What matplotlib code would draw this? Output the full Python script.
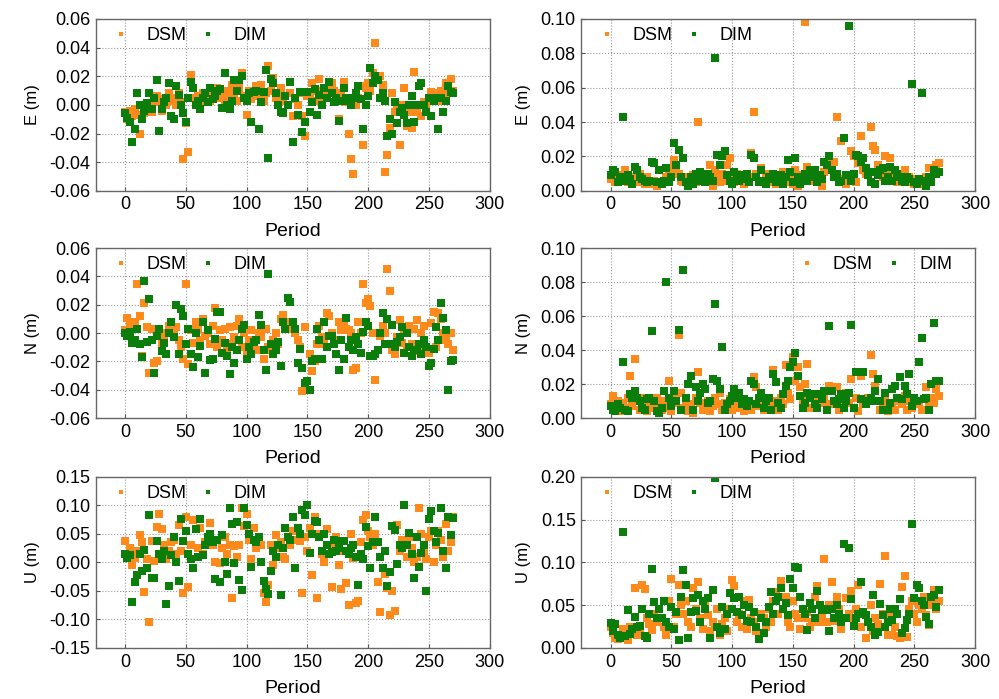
import numpy as np
import matplotlib
matplotlib.use('Agg')
import matplotlib.pyplot as plt
from matplotlib.ticker import FormatStrFormatter, MultipleLocator

plt.rcParams['font.family'] = ['Liberation Sans', 'DejaVu Sans']

# 관측 주기 (0 ~ 270, 2 간격)
period = np.arange(0, 271, 2)

# E 방향 오차 (mm)
e_dsm = [-5, -10, -4, -8, -3, -7, -20, -10, -6, -2,
         0, -5, 3, 6, 2, -4, 4, 0, 8, 3,
         5, 0, 8, 2, -38, -13, -33, 21, 5, 3,
         6, 2, 8, 4, 5, 3, 10, 6, 12, 5,
         7, 3, 10, 5, 14, 8, 3, 12, 22, 6,
         -7, 10, 4, 8, 13, 6, 14, 3, 8, 27,
         10, 19, 5, 8, 12, 3, 6, 0, 8, -8,
         4, 0, 8, -8, -22, 6, 8, 15, 3, 10,
         18, 3, 8, 10, 13, 15, 10, 8, -10, 7,
         16, 2, -20, -38, -48, 0, 5, 13, -28, 12,
         15, 10, 22, 43, 20, 20, 14, -47, -35, -16,
         8, -5, -3, -28, 0, 12, -15, -5, -16, 23,
         -5, 13, -8, 2, 0, 5, 9, 8, 5, 3,
         10, 5, 15, 8, 18, 10]
e_dim = [-6, -9, -12, -26, -17, 8, 0, -10, -4, 1,
         8, -3, 5, 17, -18, -3, 2, 5, 15, -8,
         -10, 13, 7, 0, -6, -12, 5, 16, 12, 0,
         3, -3, 5, 8, 2, 12, 4, 6, 10, 11,
         -2, 22, 0, -3, 3, 17, 10, 17, 20, 5,
         3, 8, -12, 9, 10, -17, 2, 9, 24, -37,
         18, 15, 8, 0, -5, -6, 6, 0, 16, -26,
         5, -7, 9, -19, -12, 9, -5, 2, 11, -7,
         7, 0, 12, 5, 16, 8, 2, 5, -11, 3,
         12, 5, 3, 0, 5, 8, 13, 4, -17, 0,
         6, 26, 15, 20, 17, 5, 8, 3, -22, -10,
         -20, 2, -13, -5, -2, -7, -13, 0, 6, -12,
         0, 13, 15, 0, -5, 5, -8, 3, 5, -17,
         5, -5, 3, 13, 9, 8]
e_dsm_abs = [7, 10, 5, 8, 6, 9, 12, 5, 7, 4,
             8, 5, 10, 6, 4, 8, 5, 4, 6, 3,
             5, 4, 6, 8, 10, 13, 18, 12, 10, 6,
             5, 8, 4, 6, 9, 5, 40, 7, 8, 10,
             6, 15, 3, 12, 8, 5, 10, 6, 15, 19,
             8, 5, 10, 7, 6, 4, 9, 8, 22, 46,
             10, 6, 13, 5, 10, 8, 5, 7, 4, 9,
             6, 11, 5, 10, 8, 4, 12, 3, 9, 6,
             98, 14, 10, 12, 6, 8, 5, 3, 11, 14,
             16, 15, 17, 43, 5, 29, 7, 4, 6, 23,
             20, 5, 16, 32, 12, 10, 11, 37, 26, 24,
             15, 13, 8, 20, 10, 19, 6, 9, 5, 7,
             10, 12, 6, 8, 5, 4, 7, 6, 4, 5,
             8, 13, 6, 12, 15, 16]
e_dim_abs = [9, 12, 11, 5, 8, 43, 6, 9, 7, 4,
             14, 12, 8, 7, 6, 5, 6, 17, 16, 5,
             12, 4, 6, 13, 5, 8, 28, 15, 24, 8,
             19, 5, 3, 8, 4, 10, 6, 11, 9, 5,
             10, 8, 6, 77, 21, 15, 20, 23, 9, 6,
             4, 11, 8, 6, 9, 7, 10, 5, 21, 19,
             8, 5, 12, 6, 4, 8, 7, 10, 5, 7,
             9, 4, 8, 18, 11, 5, 19, 8, 4, 6,
             10, 6, 12, 8, 12, 5, 9, 7, 17, 15,
             20, 12, 8, 10, 5, 6, 31, 9, 96, 6,
             10, 21, 20, 17, 19, 13, 9, 5, 11, 4,
             9, 12, 13, 6, 8, 14, 6, 12, 10, 8,
             6, 5, 8, 7, 62, 5, 4, 7, 57, 6,
             3, 8, 5, 12, 10, 11]

# N 방향 오차 (mm)
n_dsm = [2, 11, 5, 3, 8, 35, 12, -16, 21, 4,
         -28, 3, -21, -20, 2, -8, -3, 0, 5, 2,
         -1, 4, -5, -10, -18, 35, -22, 2, -7, 8,
         3, -5, 10, -2, 0, -8, 5, 18, -10, 2,
         -5, 3, -12, 4, -8, -3, 5, 10, -10, 0,
         -15, -5, 2, -8, -12, 0, -3, -18, 3, -10,
         -12, -5, 0, -8, 10, 13, 5, 3, 8, 5,
         0, -5, -10, -41, 4, -40, -15, -27, -20, -8,
         5, -3, -8, 14, 12, 0, -5, -15, 8, 2,
         5, 3, 2, 0, -26, -25, 8, 0, 35, 21,
         24, 19, 0, -33, 0, -2, 5, 0, 45, 30,
         -12, -15, -3, 9, -7, 0, -10, 5, -8, 3,
         9, -13, 0, 5, -10, -14, 7, 15, -10, 14,
         10, 0, -5, -8, 0, -12]
n_dim = [0, -2, 1, -7, -5, 3, -8, -17, 37, -6,
         24, -5, -28, -2, 3, -13, -7, -15, 0, 8,
         -3, 20, -15, 17, 12, -8, 3, -15, -24, 0,
         -17, -9, 8, -28, 2, -19, -18, -4, 15, 15,
         -14, -7, -16, -29, -10, -21, -12, -5, 3, 6,
         -18, -10, -15, -6, -5, 13, 6, -12, -26, 42,
         -8, -15, -12, -6, -23, 8, 3, 25, 22, 8,
         3, -21, -11, -25, -35, -34, -40, -20, -18, 3,
         -5, -18, 8, -10, -2, -2, -8, -15, -26, -5,
         -18, 11, -10, -5, -12, -3, -8, -14, 1, 8,
         5, -16, -16, -15, -12, 0, 14, -8, 10, -8,
         6, -10, -6, -3, 4, -14, 0, -10, -16, -12,
         -12, -8, -15, -5, -10, -23, -21, -11, 4, -5,
         21, 11, 2, -40, -20, -19]
n_dsm_abs = [8, 13, 5, 10, 4, 9, 6, 12, 25, 7,
             35, 10, 5, 12, 8, 4, 9, 10, 6, 12,
             8, 5, 10, 6, 22, 4, 12, 9, 49, 15,
             6, 10, 4, 8, 3, 12, 27, 9, 5, 8,
             10, 4, 7, 12, 8, 15, 5, 9, 6, 11,
             5, 8, 12, 6, 10, 4, 7, 9, 5, 24,
             18, 7, 10, 5, 12, 8, 6, 28, 10, 5,
             12, 8, 31, 15, 11, 36, 22, 30, 18, 10,
             20, 32, 6, 12, 8, 10, 14, 9, 11, 7,
             19, 8, 10, 18, 5, 7, 12, 15, 9, 23,
             6, 12, 4, 25, 8, 10, 12, 37, 26, 19,
             10, 5, 8, 12, 4, 6, 9, 5, 10, 12,
             8, 13, 5, 10, 6, 12, 8, 9, 5, 11,
             18, 7, 12, 9, 17, 13]
n_dim_abs = [7, 5, 4, 8, 6, 33, 5, 4, 14, 12,
             16, 12, 10, 6, 5, 11, 12, 51, 10, 4,
             3, 6, 16, 80, 12, 7, 16, 10, 52, 5,
             87, 12, 20, 25, 5, 18, 10, 15, 20, 17,
             9, 10, 23, 67, 22, 17, 42, 5, 8, 10,
             13, 17, 12, 15, 8, 11, 7, 10, 22, 20,
             8, 12, 15, 6, 10, 12, 5, 26, 21, 9,
             6, 14, 19, 22, 30, 33, 38, 25, 13, 6,
             9, 15, 12, 14, 8, 6, 14, 11, 16, 5,
             54, 16, 10, 8, 11, 14, 6, 10, 15, 55,
             6, 27, 27, 11, 27, 8, 10, 12, 10, 16,
             23, 10, 5, 15, 5, 9, 17, 19, 12, 24,
             11, 19, 14, 26, 7, 12, 10, 33, 47, 11,
             12, 5, 20, 56, 22, 22]

# U 방향 오차 (mm)
u_dsm = [37, 10, 25, -5, 8, 20, 48, 35, -52, 5,
         -104, 38, 2, 62, 84, 58, 30, 5, 20, 35,
         40, 15, 65, 20, -54, 80, -44, 30, 75, 58,
         25, 60, 15, 35, 45, 69, 30, 0, 40, -2,
         25, 45, 15, 30, -62, 28, 10, 30, 95, 63,
         85, 40, 5, 60, 25, 35, 30, -53, -70, -40,
         30, -5, 48, 25, 35, 10, 5, 45, 30, 55,
         40, 55, 38, -54, 45, 20, 60, -23, 79, -63,
         50, 15, 0, 58, 30, -43, 25, 45, -5, -46,
         20, -37, -75, 49, 8, -72, -67, 35, 75, 83,
         55, 45, 30, 50, -35, -87, -10, -20, -45, -93,
         -51, -85, 65, 20, 40, 30, 10, 45, 25, 0,
         10, 95, 50, 20, 5, 45, 55, 0, 30, 55,
         40, 10, 68, 20, 35, 79]
u_dim = [15, 8, 12, -69, -34, -22, 15, -16, 22, -10,
         83, -28, -28, 38, 15, 5, 20, -73, -42, 12,
         45, 0, -32, 76, 38, 55, 15, 5, -10, 58,
         10, 76, 12, 30, 45, 50, 35, -30, 40, -35,
         48, 0, -20, 95, 68, -2, 70, -31, -48, 96,
         65, 50, -8, 40, 35, 45, 0, -32, -47, -55,
         -15, 20, 10, 30, -58, 25, 60, 45, 40, 80,
         -10, 60, 50, 91, 83, 100, 16, 50, 73, 70,
         45, 20, 50, 30, 15, 18, 40, 20, 25, 38,
         38, 20, 15, 25, 30, 10, -40, 15, 5, 62,
         28, -10, 35, 80, 35, 10, -10, 20, -42, -17,
         63, 57, -3, 30, 25, 100, 30, 52, 15, -28,
         45, -8, 17, 30, -51, 76, 90, 55, 35, 52,
         96, 20, -10, 79, 48, 78]
u_dsm_abs = [25, 18, 12, 10, 15, 22, 14, 9, 25, 20,
             70, 15, 22, 74, 69, 35, 28, 21, 40, 30,
             45, 35, 25, 15, 55, 80, 25, 40, 74, 50,
             40, 55, 30, 25, 70, 45, 77, 35, 22, 50,
             38, 20, 30, 25, 45, 15, 28, 35, 20, 45,
             79, 72, 30, 40, 25, 55, 22, 56, 35, 30,
             20, 12, 40, 35, 25, 45, 30, 55, 65, 40,
             78, 45, 60, 30, 25, 55, 40, 35, 22, 45,
             35, 42, 25, 30, 60, 72, 30, 35, 104, 30,
             50, 77, 32, 60, 45, 22, 35, 58, 40, 67,
             35, 45, 73, 25, 40, 12, 30, 50, 20, 35,
             28, 75, 40, 107, 15, 38, 15, 25, 14, 12,
             71, 84, 13, 45, 55, 40, 30, 50, 45, 60,
             38, 27, 50, 68, 45, 55]
u_dim_abs = [29, 20, 28, 15, 12, 136, 14, 44, 16, 22,
             36, 24, 26, 46, 14, 12, 40, 92, 54, 35,
             45, 35, 55, 30, 25, 48, 22, 42, 9, 60,
             91, 73, 12, 42, 58, 43, 62, 30, 55, 45,
             58, 12, 68, 199, 25, 18, 48, 22, 40, 64,
             45, 58, 42, 60, 38, 50, 32, 48, 30, 42,
             25, 10, 35, 18, 30, 48, 65, 40, 55, 60,
             70, 45, 52, 38, 81, 70, 94, 93, 60, 45,
             40, 21, 52, 45, 35, 66, 50, 44, 45, 44,
             20, 45, 35, 50, 40, 30, 122, 35, 117, 57,
             26, 35, 40, 77, 42, 38, 30, 25, 62, 15,
             19, 51, 38, 25, 30, 45, 33, 45, 40, 57,
             18, 23, 33, 40, 145, 58, 74, 70, 55, 50,
             36, 28, 60, 62, 48, 68]

series_names = ['DSM', 'DIM']
colors = ['#ff8a1c', '#0a7d0a']

# (위치, DSM, DIM, y 라벨, y 범위, y 간격, 범례 위치, 범례 기준점)
panels = [
    ([0.096, 0.727, 0.394, 0.246], e_dsm, e_dim, 'E (m)', (-0.06, 0.06), 0.02, 'upper left', (0.014, 1.015)),
    ([0.582, 0.727, 0.394, 0.246], e_dsm_abs, e_dim_abs, 'E (m)', (0.0, 0.10), 0.02, 'upper left', (0.014, 1.015)),
    ([0.096, 0.402, 0.394, 0.243], n_dsm, n_dim, 'N (m)', (-0.06, 0.06), 0.02, 'upper left', (0.014, 1.015)),
    ([0.582, 0.402, 0.394, 0.243], n_dsm_abs, n_dim_abs, 'N (m)', (0.0, 0.10), 0.02, 'upper right', (0.97, 1.015)),
    ([0.096, 0.073, 0.394, 0.245], u_dsm, u_dim, 'U (m)', (-0.15, 0.15), 0.05, 'upper left', (0.014, 1.015)),
    ([0.582, 0.073, 0.394, 0.245], u_dsm_abs, u_dim_abs, 'U (m)', (0.0, 0.20), 0.05, 'upper left', (0.014, 1.015)),
]

fig = plt.figure(figsize=(9.99, 6.99), dpi=100)

for pos, dsm, dim, ylab, ylim, ystep, loc, anchor in panels:
    ax = fig.add_axes(pos)
    for vals, name, c in zip([dsm, dim], series_names, colors):
        ax.plot(period, np.array(vals) / 1000.0, 's', ms=5.2, mew=0,
                color=c, label=name)
    ax.set_xlim(-24, 300)
    ax.set_ylim(*ylim)
    ax.xaxis.set_major_locator(MultipleLocator(50))
    ax.yaxis.set_major_locator(MultipleLocator(ystep))
    ax.yaxis.set_major_formatter(FormatStrFormatter('%.2f'))
    ax.grid(True, color='#999999', linestyle=':', linewidth=0.8)
    ax.set_axisbelow(True)
    ax.tick_params(direction='in', length=3, color='#555555', labelsize=13, pad=4)
    for s in ax.spines.values():
        s.set_color('#666666')
        s.set_linewidth(1.0)
    ax.set_xlabel('Period', fontsize=14, labelpad=7)
    ax.set_ylabel(ylab, fontsize=12, labelpad=7)
    ax.legend(loc=loc, bbox_to_anchor=anchor, ncol=2, frameon=False,
              fontsize=13, markerscale=0.65, handlelength=1.0,
              handletextpad=0.9, columnspacing=0.7,
              borderaxespad=0.2, borderpad=0.4)

fig.savefig('out.png', dpi=100)
